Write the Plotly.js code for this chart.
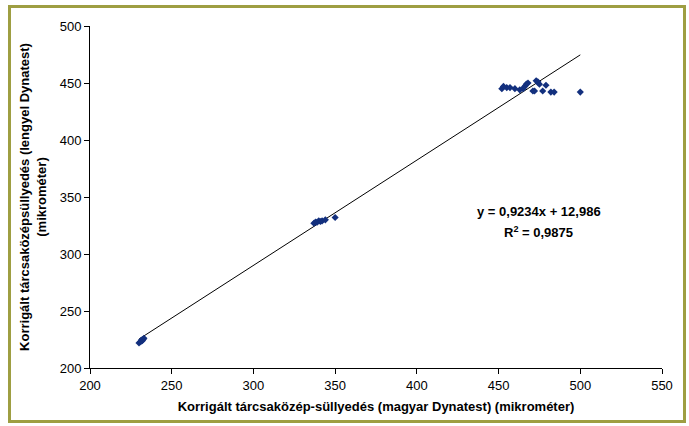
<!DOCTYPE html>
<html>
<head>
<meta charset="utf-8">
<script src="https://cdn.plot.ly/plotly-3.0.1.min.js"></script>
<style>
  html, body { margin: 0; padding: 0; background: #ffffff; }
  #wrap { position: relative; width: 689px; height: 426px; }
  #chart { width: 689px; height: 426px; }
  #frame {
    position: absolute; left: 8px; top: 5px; width: 672px; height: 412px;
    border: 3px solid #9e9e42; pointer-events: none;
  }
</style>
</head>
<body>
<div id="wrap">
  <div id="chart"></div>
  <div id="frame"></div>
</div>
<script>
// Corrected deflection under the load plate: Hungarian vs Polish Dynatest
const hungarianX = [
  230, 231, 231.5, 232, 232.5, 233,
  337, 338, 339, 340, 341, 342, 344, 350,
  452, 453, 455, 457, 460, 463, 465, 466, 467, 468,
  471, 472, 473, 474, 475, 477, 479, 482, 484, 500
];
const polishY = [
  222, 223, 224.5, 224, 225, 226,
  327, 328, 328, 329, 328.5, 329, 330, 332,
  445, 447, 446, 446, 445, 444, 445, 447, 449, 450,
  443, 443, 452, 451, 449, 443, 448, 442, 442, 442
];

// Linear trend (stated in the equation label)
const slope = 0.9234;
const intercept = 12.986;
const rSquared = 0.9875;

const equationText = "y = 0,9234x + 12,986";
const r2Text = "R<sup>2</sup> = 0,9875";

const xTitle = "Korrigált tárcsaközép-süllyedés (magyar Dynatest) (mikrométer)";
const yTitle = "Korrigált tárcsaközépsüllyedés (lengyel Dynatest)<br>(mikrométer)";

const xMin = Math.min(...hungarianX);
const xMax = Math.max(...hungarianX);
const trendX = [xMin, xMax];
const trendY = trendX.map(v => slope * v + intercept);

const family = "Liberation Sans, Arial, sans-serif";
const tickFont = { family: family, size: 13, color: "#000000" };
const titleFont = { family: family, size: 13, color: "#000000", weight: "bold" };
const labelFont = { family: family, size: 13, color: "#000000" };

const traces = [
  {
    x: trendX, y: trendY, type: "scatter", mode: "lines",
    line: { color: "#000000", width: 1 }, hoverinfo: "skip", showlegend: false
  },
  {
    x: hungarianX, y: polishY, type: "scatter", mode: "markers",
    marker: { symbol: "diamond", size: 5.5, color: "#13307e" }, showlegend: false
  }
];

const axisCommon = {
  showgrid: false, zeroline: false, showline: true,
  linecolor: "#000000", linewidth: 1,
  ticks: "outside", ticklen: 5, tickcolor: "#000000", tickwidth: 1,
  tickfont: tickFont, dtick: 50
};

const layout = {
  width: 689, height: 426,
  margin: { l: 90, r: 27, t: 26, b: 58 },
  paper_bgcolor: "rgba(0,0,0,0)", plot_bgcolor: "#ffffff",
  font: tickFont,
  xaxis: Object.assign({}, axisCommon, {
    range: [200, 550], tick0: 200,
    title: { text: xTitle, font: titleFont, standoff: 10 }
  }),
  yaxis: Object.assign({}, axisCommon, {
    range: [200, 500], tick0: 200,
    title: { text: yTitle, font: titleFont, standoff: 10 }
  }),
  annotations: [
    {
      x: 474.5, y: 337, xref: "x", yref: "y", showarrow: false, text: "<b>" + equationText + "</b>",
      font: labelFont
    },
    {
      x: 474.5, y: 319.3, xref: "x", yref: "y", showarrow: false, text: "<b>" + r2Text + "</b>",
      font: labelFont
    }
  ]
};

Plotly.newPlot("chart", traces, layout, { displayModeBar: false, staticPlot: true });
</script>
</body>
</html>
